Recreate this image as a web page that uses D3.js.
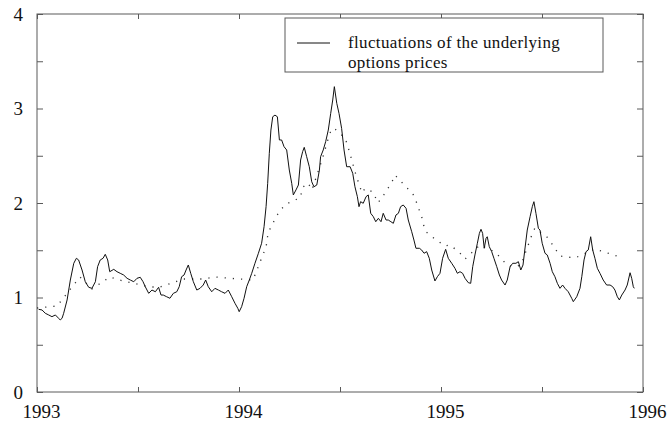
<!DOCTYPE html>
<html>
<head>
<meta charset="utf-8">
<script src="https://cdn.jsdelivr.net/npm/d3@7/dist/d3.min.js"></script>
<style>
  html, body { margin: 0; padding: 0; background: #fff; }
  svg { display: block; }
</style>
</head>
<body>
<svg id="chart" width="668" height="424"></svg>
<script>
// Daily fluctuation series (decimal year, level)
const solidYears = [
  1993.008,1993.025,1993.041,1993.058,1993.074,1993.091,1993.107,1993.115,1993.124,1993.132,
  1993.149,1993.165,1993.182,1993.195,1993.206,1993.223,1993.239,1993.256,1993.272,1993.289,
  1993.300,1993.313,1993.327,1993.338,1993.350,1993.360,1993.380,1993.396,1993.412,1993.429,
  1993.446,1993.462,1993.479,1993.495,1993.511,1993.525,1993.536,1993.553,1993.569,1993.586,
  1993.602,1993.614,1993.625,1993.642,1993.658,1993.675,1993.692,1993.704,1993.716,1993.728,
  1993.738,1993.749,1993.761,1993.774,1993.791,1993.807,1993.823,1993.835,1993.848,1993.865,
  1993.881,1993.898,1993.914,1993.931,1993.947,1993.964,1993.980,1993.994,1994.001,1994.013,
  1994.025,1994.038,1994.051,1994.063,1994.079,1994.096,1994.112,1994.124,1994.134,1994.142,
  1994.150,1994.158,1994.167,1994.178,1994.190,1994.200,1994.211,1994.223,1994.236,1994.249,
  1994.261,1994.269,1994.282,1994.294,1994.305,1994.315,1994.323,1994.335,1994.348,1994.360,
  1994.371,1994.385,1994.398,1994.404,1994.417,1994.429,1994.442,1994.454,1994.464,1994.472,
  1994.484,1994.495,1994.508,1994.520,1994.533,1994.550,1994.563,1994.574,1994.586,1994.594,
  1994.602,1994.615,1994.629,1994.640,1994.652,1994.665,1994.677,1994.690,1994.703,1994.714,
  1994.728,1994.739,1994.752,1994.764,1994.777,1994.789,1994.800,1994.813,1994.827,1994.838,
  1994.855,1994.866,1994.876,1994.893,1994.904,1994.916,1994.929,1994.942,1994.954,1994.970,
  1994.982,1994.995,1995.008,1995.023,1995.036,1995.053,1995.069,1995.081,1995.094,1995.107,
  1995.119,1995.135,1995.147,1995.157,1995.168,1995.180,1995.190,1995.198,1995.206,1995.214,
  1995.223,1995.229,1995.239,1995.251,1995.262,1995.276,1995.289,1995.300,1995.317,1995.328,
  1995.342,1995.355,1995.371,1995.383,1995.395,1995.406,1995.416,1995.427,1995.441,1995.452,
  1995.460,1995.470,1995.482,1995.490,1995.501,1995.515,1995.526,1995.540,1995.551,1995.564,
  1995.576,1995.589,1995.602,1995.614,1995.630,1995.647,1995.655,1995.672,1995.688,1995.697,
  1995.708,1995.718,1995.729,1995.741,1995.751,1995.762,1995.774,1995.787,1995.803,1995.820,
  1995.837,1995.850,1995.861,1995.873,1995.883,1995.895,1995.911,1995.922,1995.936,1995.944,
  1995.952,1995.957
];
const solidValues = [
  0.875,0.868,0.833,0.815,0.797,0.815,0.780,0.762,0.780,0.833,
  0.974,1.185,1.362,1.415,1.397,1.291,1.167,1.108,1.097,1.167,
  1.326,1.397,1.415,1.457,1.397,1.273,1.298,1.273,1.256,1.238,
  1.203,1.185,1.167,1.203,1.214,1.167,1.114,1.044,1.079,1.061,
  1.108,1.026,1.026,1.008,0.992,1.044,1.061,1.114,1.220,1.238,
  1.291,1.344,1.256,1.167,1.079,1.097,1.132,1.185,1.114,1.061,
  1.097,1.079,1.061,1.044,1.079,1.008,0.939,0.886,0.850,0.903,
  0.992,1.114,1.185,1.256,1.362,1.468,1.574,1.749,1.961,2.208,
  2.526,2.772,2.913,2.930,2.913,2.667,2.667,2.596,2.561,2.349,
  2.208,2.085,2.138,2.190,2.455,2.543,2.589,2.490,2.384,2.225,
  2.172,2.190,2.349,2.490,2.561,2.649,2.772,2.949,3.090,3.231,
  3.055,2.949,2.790,2.561,2.384,2.384,2.314,2.172,2.067,1.961,
  2.014,1.997,2.067,2.085,1.891,1.855,1.802,1.838,1.802,1.891,
  1.820,1.820,1.802,1.785,1.873,1.891,1.961,1.979,1.944,1.820,
  1.696,1.608,1.521,1.521,1.503,1.468,1.485,1.415,1.291,1.175,
  1.220,1.256,1.415,1.510,1.415,1.362,1.309,1.256,1.273,1.256,
  1.203,1.157,1.150,1.326,1.450,1.574,1.679,1.722,1.679,1.521,
  1.626,1.643,1.538,1.485,1.415,1.326,1.238,1.185,1.132,1.185,
  1.326,1.362,1.362,1.379,1.291,1.344,1.524,1.714,1.855,1.961,
  2.014,1.891,1.732,1.714,1.574,1.468,1.450,1.362,1.273,1.220,
  1.150,1.097,1.132,1.097,1.061,0.992,0.956,1.008,1.097,1.220,
  1.397,1.485,1.503,1.643,1.503,1.415,1.309,1.256,1.185,1.132,
  1.132,1.114,1.079,1.008,0.974,1.026,1.079,1.132,1.262,1.203,
  1.114,1.097
];

// Smoothed comparison series, drawn dotted
const dotYears = [
  1993.000,1993.099,1993.213,1993.272,1993.361,1993.426,1993.559,1993.609,1993.668,1993.723,
  1993.772,1993.822,1993.881,1993.941,1994.000,1994.069,1994.089,1994.114,1994.134,1994.144,
  1994.163,1994.203,1994.252,1994.302,1994.317,1994.342,1994.361,1994.411,1994.450,1994.470,
  1994.525,1994.540,1994.579,1994.609,1994.624,1994.663,1994.688,1994.723,1994.757,1994.772,
  1994.861,1994.871,1994.906,1994.921,1994.950,1995.020,1995.045,1995.094,1995.119,1995.193,
  1995.248,1995.282,1995.327,1995.361,1995.396,1995.455,1995.465,1995.530,1995.589,1995.663,
  1995.762,1995.871
];
const dotValues = [
  0.889,0.910,1.217,1.090,1.217,1.175,1.111,1.111,1.153,1.196,
  1.196,1.196,1.217,1.206,1.196,1.185,1.291,1.429,1.534,1.683,
  1.767,1.926,2.011,2.053,2.169,2.212,2.138,2.455,2.741,2.794,
  2.688,2.593,2.296,2.106,2.153,2.116,2.000,2.106,2.222,2.296,
  2.095,2.053,1.841,1.704,1.651,1.545,1.556,1.471,1.407,1.556,
  1.503,1.450,1.344,1.323,1.344,1.693,1.735,1.630,1.439,1.418,
  1.513,1.439
];

const yearTicks = [1993, 1994, 1995, 1996];
const levelTicks = [0, 1, 2, 3, 4];
const legendLines = ["fluctuations of the underlying", "options prices"];

const serif = '"Liberation Serif", "Times New Roman", "DejaVu Serif", serif';

const svg = d3.select("#chart");
const plot = { left: 37, right: 643, top: 14, bottom: 392 };

const x = d3.scaleLinear().domain([1993, 1996]).range([plot.left, plot.right]);
const y = d3.scaleLinear().domain([0, 4]).range([plot.bottom, plot.top]);

const frameColor = "#5a5a5a";

// Frame
svg.append("rect")
  .attr("x", plot.left).attr("y", plot.top)
  .attr("width", plot.right - plot.left).attr("height", plot.bottom - plot.top)
  .attr("fill", "none").attr("stroke", frameColor).attr("stroke-width", 1);

// Inward ticks every half unit, labelled at whole values
const halfYears = d3.range(1993, 1996.01, 0.5);
const halfLevels = d3.range(0, 4.01, 0.5);

const axisStyle = g => {
  g.attr("font-family", serif);
  g.select(".domain").remove();
  g.selectAll(".tick line").attr("stroke", frameColor);
  g.selectAll(".tick text")
    .attr("font-family", serif)
    .attr("font-size", 19)
    .attr("fill", "#111");
};

svg.append("g")
  .attr("transform", `translate(0,${plot.bottom})`)
  .call(d3.axisBottom(x).tickValues(halfYears).tickSize(-5).tickPadding(13)
    .tickFormat(d => yearTicks.includes(d) ? d3.format("d")(d) : ""))
  .call(axisStyle)
  .call(g => g.selectAll(".tick text").attr("dx", 4));

svg.append("g")
  .attr("transform", `translate(0,${plot.top})`)
  .call(d3.axisTop(x).tickValues(halfYears).tickSize(-5).tickFormat(""))
  .call(axisStyle);

svg.append("g")
  .attr("transform", `translate(${plot.left},0)`)
  .call(d3.axisLeft(y).tickValues(halfLevels).tickSize(-6).tickPadding(14)
    .tickFormat(d => levelTicks.includes(d) ? d3.format("d")(d) : ""))
  .call(axisStyle);

svg.append("g")
  .attr("transform", `translate(${plot.right},0)`)
  .call(d3.axisRight(y).tickValues(halfLevels).tickSize(-6).tickFormat(""))
  .call(axisStyle);

// Series
const solidData = solidYears.map((t, i) => [t, solidValues[i]]);
const dotData = dotYears.map((t, i) => [t, dotValues[i]]);
const line = d3.line().x(d => x(d[0])).y(d => y(d[1]));

svg.append("path")
  .datum(dotData)
  .attr("d", line)
  .attr("fill", "none")
  .attr("stroke", "#333")
  .attr("stroke-width", 1.3)
  .attr("stroke-dasharray", "1.2,7");

svg.append("path")
  .datum(solidData)
  .attr("d", line)
  .attr("fill", "none")
  .attr("stroke", "#111")
  .attr("stroke-width", 1)
  .attr("stroke-linejoin", "round");

// Legend
const legend = svg.append("g");
legend.append("rect")
  .attr("x", 285).attr("y", 18).attr("width", 318).attr("height", 54)
  .attr("fill", "#fff").attr("stroke", frameColor).attr("stroke-width", 1);
legend.append("line")
  .attr("x1", 297).attr("x2", 330).attr("y1", 43).attr("y2", 43)
  .attr("stroke", "#111").attr("stroke-width", 1);
legend.selectAll("text.entry")
  .data(legendLines)
  .join("text")
  .attr("class", "entry")
  .attr("x", 348)
  .attr("y", (d, i) => 48 + i * 19.5)
  .attr("font-family", serif)
  .attr("font-size", 17)
  .attr("letter-spacing", 0.35)
  .attr("fill", "#111")
  .text(d => d);
</script>
</body>
</html>
